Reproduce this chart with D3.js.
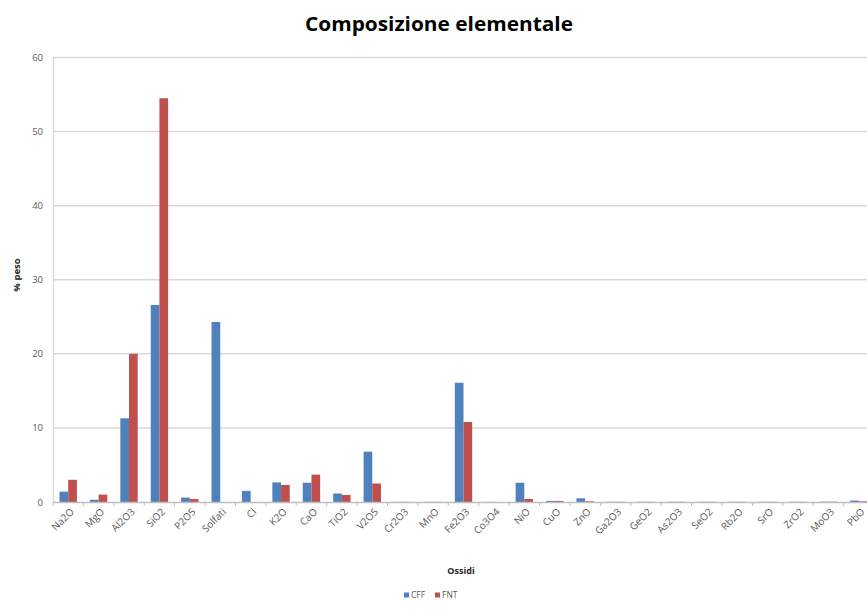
<!DOCTYPE html>
<html><head><meta charset="utf-8">
<script src="https://cdn.jsdelivr.net/npm/d3@7"></script>
<style>body{margin:0;background:#fff}svg{display:block}</style>
</head><body>
<script>
const categories = ["Na2O","MgO","Al2O3","SiO2","P2O5","Solfati","Cl","K2O","CaO","TiO2","V2O5","Cr2O3","MnO","Fe2O3","Co3O4","NiO","CuO","ZnO","Ga2O3","GeO2","As2O3","SeO2","Rb2O","SrO","ZrO2","MoO3","PbO"];
const seriesNames = ["CFF","FNT"];
const cff = [1.4,0.3,11.3,26.6,0.6,24.3,1.5,2.65,2.6,1.15,6.8,0.02,0.02,16.1,0.02,2.6,0.15,0.5,0.03,0.03,0.03,0.03,0.03,0.03,0.03,0.05,0.2];
const fnt = [3.0,1.0,20.0,54.5,0.4,0,0,2.3,3.7,0.95,2.5,0.02,0.02,10.8,0,0.4,0.15,0.1,0.03,0.03,0.03,0.03,0.03,0.03,0.03,0.05,0.1];
const yTicks = [0,10,20,30,40,50,60];
const colors = ["#4F81BD","#C0504D"];

const W=867,H=613;
const svg=d3.select("body").append("svg").attr("width",W).attr("height",H);
const mLeft=53,mRight=874,mTop=57.5,mBottom=502;
const font="'Open Sans', 'Liberation Sans', sans-serif";

const x=d3.scaleBand().domain(categories).range([mLeft,mRight]).paddingInner(0).paddingOuter(0);
const y=d3.scaleLinear().domain([0,60]).range([mBottom,mTop]);
const bw=x.bandwidth();
const barW=bw/3.5;

// gridlines
svg.append("g").selectAll("line").data(yTicks.filter(d=>d>0)).join("line")
  .attr("x1",mLeft).attr("x2",mRight).attr("y1",d=>y(d)).attr("y2",d=>y(d))
  .attr("stroke","#d9d9d9").attr("stroke-width",1.5);

// y axis
const ya=svg.append("g").attr("transform",`translate(${mLeft},0)`)
  .call(d3.axisLeft(y).tickValues(yTicks).tickSize(0).tickPadding(10));
ya.select(".domain").attr("stroke","#d9d9d9").attr("stroke-width",1.5);
ya.selectAll("text").attr("font-family",font).attr("font-size",9.5).attr("fill","#595959");

// bars
const series=[cff,fnt];
series.forEach((vals,si)=>{
  svg.append("g").selectAll("rect").data(categories).join("rect")
    .attr("x",(d,i)=>x(d)+bw/2-barW+si*barW)
    .attr("width",barW)
    .attr("y",(d,i)=>y(vals[i]))
    .attr("height",(d,i)=>y(0)-y(vals[i]))
    .attr("fill",colors[si]);
});

// x axis
const xa=svg.append("g").attr("transform",`translate(0,${mBottom})`)
  .call(d3.axisBottom(x).tickSize(0).tickPadding(2));
xa.select(".domain").attr("stroke","#bfbfbf").attr("stroke-width",1.5);
svg.append("g").selectAll("line").data(d3.range(categories.length+1)).join("line")
  .attr("x1",i=>mLeft+i*bw).attr("x2",i=>mLeft+i*bw)
  .attr("y1",mBottom).attr("y2",mBottom+4).attr("stroke","#bfbfbf").attr("stroke-width",1);
xa.selectAll("text").attr("font-family",font).attr("font-size",10).attr("fill","#595959")
  .attr("text-anchor","end")
  .attr("transform","translate(0,4) rotate(-45)");

// titles
svg.append("text").attr("x",439).attr("y",31).attr("text-anchor","middle")
  .attr("font-family",font).attr("font-weight","bold").attr("font-size",19).attr("fill","#000")
  .attr("textLength",268).attr("lengthAdjust","spacingAndGlyphs")
  .text("Composizione elementale");
svg.append("text").attr("x",461).attr("y",574).attr("text-anchor","middle")
  .attr("font-family",font).attr("font-weight","bold").attr("font-size",9).attr("fill","#262626")
  .text("Ossidi");
svg.append("text").attr("transform","translate(20,275) rotate(-90)").attr("text-anchor","middle")
  .attr("font-family",font).attr("font-weight","bold").attr("font-size",9.5).attr("fill","#262626")
  .text("% peso");

// legend
const lg=svg.append("g").attr("transform","translate(404,598)");
seriesNames.forEach((n,i)=>{
  const g=lg.append("g").attr("transform",`translate(${i*31},0)`);
  g.append("rect").attr("x",0).attr("y",-5.5).attr("width",5).attr("height",5).attr("fill",colors[i]);
  g.append("text").attr("x",7).attr("y",0).attr("font-family",font).attr("font-size",8.5).attr("fill","#595959").text(n);
});
</script>
</body></html>
